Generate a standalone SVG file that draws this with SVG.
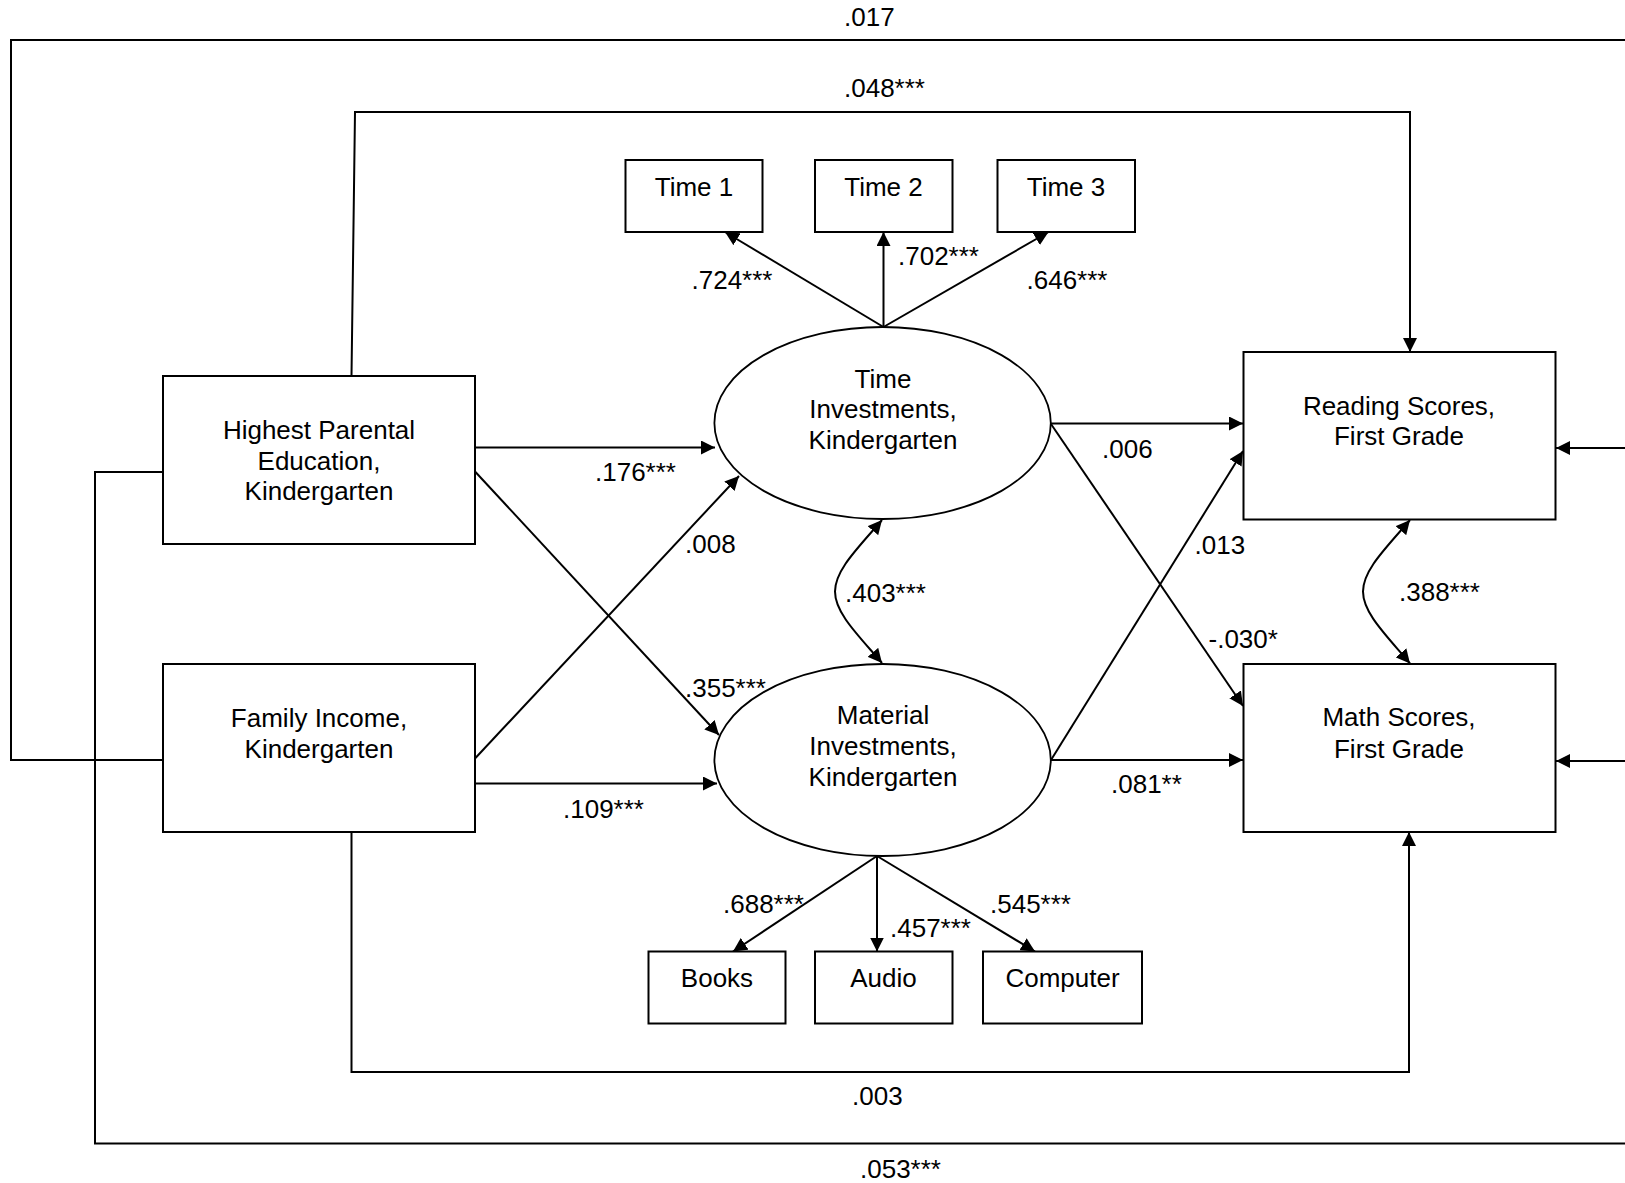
<svg xmlns="http://www.w3.org/2000/svg" width="1625" height="1183" viewBox="0 0 1625 1183">
  <style>
    .box { fill: #ffffff; stroke: #000000; stroke-width: 2; }
    .lat { fill: #ffffff; stroke: #000000; stroke-width: 1.8; }
    .name { font-family: "Liberation Sans", Arial, sans-serif; font-size: 26px; fill: #000000; text-anchor: middle; }
    .coef { font-family: "Liberation Sans", Arial, sans-serif; font-size: 26px; fill: #000000; }
    .edge { fill: none; stroke: #000000; stroke-width: 2; }
    .arr { marker-end: url(#head); }
    .both { marker-start: url(#head); marker-end: url(#head); }
  </style>
  <defs>
    <marker id="head" markerUnits="userSpaceOnUse" markerWidth="15" markerHeight="14" refX="14" refY="7" orient="auto-start-reverse">
      <path d="M0,0 L14,7 L0,14 Z" fill="#000000"/>
    </marker>
  </defs>
  <rect width="1625" height="1183" fill="#ffffff"/>

  <!-- connectors -->
  <g id="connectors">
    <!-- long outer paths leave the canvas on the right and re-enter toward the outcome boxes -->
    <path class="edge arr" d="M163,760 H11 V40 H1645 V448 H1556"/>
    <path class="edge arr" d="M163,472 H95 V1143.5 H1645 V761 H1556"/>
    <path class="edge arr" d="M351.5,376 L355,112 H1410 V352"/>
    <path class="edge arr" d="M351.5,832 V1072 H1409 V832"/>

    <!-- exogenous to latent -->
    <path class="edge arr" d="M475,447.5 H715"/>
    <path class="edge arr" d="M475,471.5 L719,735"/>
    <path class="edge arr" d="M475,758.5 L739,476"/>
    <path class="edge arr" d="M475,783.5 H717"/>

    <!-- time indicators -->
    <path class="edge arr" d="M883.5,327 L725,232"/>
    <path class="edge arr" d="M883.5,327 V232"/>
    <path class="edge arr" d="M883.5,327 L1048.5,232"/>

    <!-- material indicators -->
    <path class="edge arr" d="M877,856 L733,951.5"/>
    <path class="edge arr" d="M877,856 V951.5"/>
    <path class="edge arr" d="M877,856 L1035,951.5"/>

    <!-- latent to outcomes -->
    <path class="edge arr" d="M1051,423.5 H1243"/>
    <path class="edge arr" d="M1051,424 L1243,706"/>
    <path class="edge arr" d="M1051,760 L1243,451"/>
    <path class="edge arr" d="M1051,760 H1243"/>

    <!-- covariances -->
    <path class="edge both" d="M882,520 C858,548 835,570 835,591.5 C835,613 858,635 882,663"/>
    <path class="edge both" d="M1410,520 C1386,548 1363,570 1363,591.5 C1363,613 1386,635 1410,663.5"/>
  </g>

  <!-- coefficients -->
  <g id="coefficients">
    <text class="coef" x="844" y="26">.017</text>
    <text class="coef" x="844" y="97">.048***</text>
    <text class="coef" x="691.5" y="289">.724***</text>
    <text class="coef" x="898" y="265">.702***</text>
    <text class="coef" x="1026.5" y="289">.646***</text>
    <text class="coef" x="595" y="481">.176***</text>
    <text class="coef" x="1102" y="458">.006</text>
    <text class="coef" x="685" y="553">.008</text>
    <text class="coef" x="1194.5" y="554">.013</text>
    <text class="coef" x="845" y="601.5">.403***</text>
    <text class="coef" x="1399" y="601">.388***</text>
    <text class="coef" x="685" y="697">.355***</text>
    <text class="coef" x="1208.5" y="648">-.030*</text>
    <text class="coef" x="1111" y="792.5">.081**</text>
    <text class="coef" x="563" y="817.5">.109***</text>
    <text class="coef" x="723" y="913">.688***</text>
    <text class="coef" x="990" y="913">.545***</text>
    <text class="coef" x="890" y="937">.457***</text>
    <text class="coef" x="852" y="1105">.003</text>
    <text class="coef" x="860" y="1178">.053***</text>
  </g>

  <!-- nodes -->
  <g id="parental-education">
    <rect class="box" x="163" y="376" width="312" height="168"/>
    <text class="name" x="319" y="438.5">Highest Parental</text>
    <text class="name" x="319" y="469.5">Education,</text>
    <text class="name" x="319" y="500">Kindergarten</text>
  </g>
  <g id="family-income">
    <rect class="box" x="163" y="664" width="312" height="168"/>
    <text class="name" x="319" y="727">Family Income,</text>
    <text class="name" x="319" y="757.5">Kindergarten</text>
  </g>
  <g id="time-1">
    <rect class="box" x="625.5" y="160" width="137" height="72"/>
    <text class="name" x="694" y="196">Time 1</text>
  </g>
  <g id="time-2">
    <rect class="box" x="815" y="160" width="137.5" height="72"/>
    <text class="name" x="883.5" y="196">Time 2</text>
  </g>
  <g id="time-3">
    <rect class="box" x="997.5" y="160" width="137.5" height="72"/>
    <text class="name" x="1066" y="196">Time 3</text>
  </g>
  <g id="time-investments">
    <ellipse class="lat" cx="882.6" cy="423" rx="168.2" ry="96"/>
    <text class="name" x="883" y="387.5">Time</text>
    <text class="name" x="883" y="418">Investments,</text>
    <text class="name" x="883" y="449">Kindergarten</text>
  </g>
  <g id="material-investments">
    <ellipse class="lat" cx="882.6" cy="760" rx="168.2" ry="96"/>
    <text class="name" x="883" y="723.5">Material</text>
    <text class="name" x="883" y="754.5">Investments,</text>
    <text class="name" x="883" y="785.5">Kindergarten</text>
  </g>
  <g id="reading-scores">
    <rect class="box" x="1243.5" y="352" width="312" height="167.5"/>
    <text class="name" x="1399" y="415">Reading Scores,</text>
    <text class="name" x="1399" y="445">First Grade</text>
  </g>
  <g id="math-scores">
    <rect class="box" x="1243.5" y="664" width="312" height="168"/>
    <text class="name" x="1399" y="726">Math Scores,</text>
    <text class="name" x="1399" y="757.5">First Grade</text>
  </g>
  <g id="books">
    <rect class="box" x="648.5" y="951.5" width="137" height="72"/>
    <text class="name" x="717" y="987">Books</text>
  </g>
  <g id="audio">
    <rect class="box" x="815" y="951.5" width="137.5" height="72"/>
    <text class="name" x="883.5" y="987">Audio</text>
  </g>
  <g id="computer">
    <rect class="box" x="983" y="951.5" width="159" height="72"/>
    <text class="name" x="1062.5" y="987">Computer</text>
  </g>
</svg>
